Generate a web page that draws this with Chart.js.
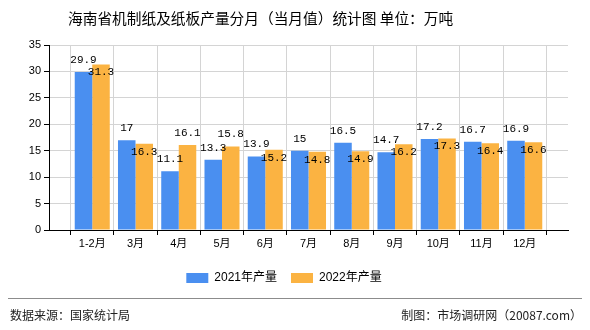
<!DOCTYPE html>
<html>
<head>
<meta charset="utf-8">
<script src="https://cdn.jsdelivr.net/npm/chart.js@4.4.0/dist/chart.umd.min.js"></script>
<style>
  body { margin: 0; background: #fff; }
</style>
</head>
<body>
<canvas id="paperChart" width="590" height="330"></canvas>
<script>
const months = ['1-2月', '3月', '4月', '5月', '6月', '7月', '8月', '9月', '10月', '11月', '12月'];
const output2021 = [29.9, 17, 11.1, 13.3, 13.9, 15, 16.5, 14.7, 17.2, 16.7, 16.9];
const output2022 = [31.3, 16.3, 16.1, 15.8, 15.2, 14.8, 14.9, 16.2, 17.3, 16.4, 16.6];
const yTicks = [0, 5, 10, 15, 20, 25, 30, 35];

const titleText = '海南省机制纸及纸板产量分月（当月值）统计图 单位：万吨';
const sourceText = '数据来源：国家统计局';
const makerText = '制图：市场调研网（20087.com）';

// empty slot on each end so the months sit on the grid lines
const labels = [''].concat(months, ['']);
const pad = function(arr) { return [null].concat(arr, [null]); };

const BLUE = '#4a8ff0';
const ORANGE = '#fbb342';
const CJK = '"Liberation Sans", "Noto Sans CJK SC", sans-serif';

// value labels: 2021 above its bar, 2022 above too unless it would
// collide with the 2021 label, then it drops just inside the bar top
const valueLabels = {
  id: 'valueLabels',
  afterDatasetsDraw(chart) {
    const ctx = chart.ctx;
    const a = chart.getDatasetMeta(0).data;
    const b = chart.getDatasetMeta(1).data;
    ctx.save();
    ctx.font = '11px "Liberation Mono", monospace';
    ctx.fillStyle = '#000';
    ctx.textAlign = 'center';
    ctx.textBaseline = 'middle';
    for (let i = 0; i < a.length; i++) {
      const v1 = chart.data.datasets[0].data[i];
      const v2 = chart.data.datasets[1].data[i];
      if (v1 == null) continue;
      const y1 = a[i].y - 12;
      let y2 = b[i].y - 12;
      if (Math.abs(y2 - y1) < 12) y2 = b[i].y + 8;
      ctx.fillText(String(v1), a[i].x, y1);
      ctx.fillText(String(v2), b[i].x, y2);
    }
    ctx.restore();
  }
};

// title on top, source line and credit at the bottom
const frame = {
  id: 'frame',
  afterDraw(chart) {
    const ctx = chart.ctx;
    ctx.save();
    ctx.fillStyle = '#000';
    ctx.textBaseline = 'middle';
    ctx.font = '14.7px "Noto Sans CJK SC", sans-serif';
    ctx.textAlign = 'left';
    ctx.fillText(titleText, 68, 18);

    ctx.strokeStyle = '#8c8c8c';
    ctx.lineWidth = 1;
    ctx.beginPath();
    ctx.moveTo(8, 298.5);
    ctx.lineTo(582, 298.5);
    ctx.stroke();

    ctx.fillStyle = '#222';
    ctx.font = '12px "Noto Sans CJK SC", sans-serif';
    ctx.fillText(sourceText, 10, 315);
    ctx.textAlign = 'right';
    ctx.fillText(makerText, 582, 315);
    ctx.restore();
  }
};

new Chart(document.getElementById('paperChart'), {
  type: 'bar',
  data: {
    labels: labels,
    datasets: [
      { label: '2021年产量', data: pad(output2021), backgroundColor: BLUE,
        categoryPercentage: 0.81, barPercentage: 1 },
      { label: '2022年产量', data: pad(output2022), backgroundColor: ORANGE,
        categoryPercentage: 0.81, barPercentage: 1 }
    ]
  },
  options: {
    responsive: false,
    devicePixelRatio: 1,
    animation: false,
    layout: { padding: { top: 45, right: 22, left: 0, bottom: 36 } },
    plugins: {
      legend: {
        position: 'bottom',
        labels: {
          boxWidth: 22,
          boxHeight: 10,
          padding: 14,
          color: '#000',
          font: { size: 12, family: CJK }
        }
      },
      tooltip: { enabled: false }
    },
    scales: {
      x: {
        offset: false,
        grid: { color: '#d4d4d4', tickColor: '#000', tickLength: 5, drawOnChartArea: true },
        border: { color: '#000' },
        ticks: { color: '#000', font: { size: 11, family: CJK }, padding: 2, maxRotation: 0, autoSkip: false },
        afterFit: function(scale) { scale.height = 28; }
      },
      y: {
        min: 0,
        max: 35,
        afterBuildTicks: function(scale) {
          scale.ticks = yTicks.map(function(v) { return { value: v }; });
        },
        grid: { color: '#d4d4d4', tickColor: '#000', tickLength: 5 },
        border: { color: '#000' },
        ticks: { color: '#000', font: { size: 11, family: CJK }, padding: 3 },
        afterFit: function(scale) { scale.width = 49; }
      }
    }
  },
  plugins: [valueLabels, frame]
});
</script>
</body>
</html>
